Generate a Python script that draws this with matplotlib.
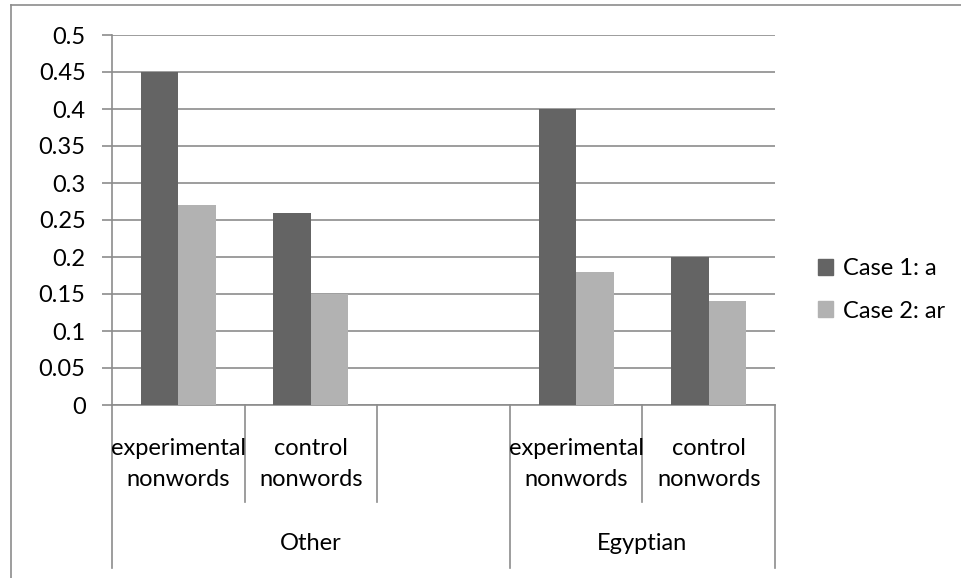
import matplotlib.pyplot as plt
from matplotlib import transforms
from matplotlib.lines import Line2D
from matplotlib.patches import Patch

plt.rcParams['font.family'] = ['Lato', 'DejaVu Sans']

categories = ["experimental\nnonwords", "control\nnonwords", "",
              "experimental\nnonwords", "control\nnonwords"]
groups = ["Other", "Egyptian"]
group_spans = [(0, 3), (3, 5)]
case1 = [0.45, 0.26, None, 0.40, 0.20]
case2 = [0.27, 0.15, None, 0.18, 0.14]
series_names = ["Case 1: a", "Case 2: ar"]
yticks = [0, 0.05, 0.1, 0.15, 0.2, 0.25, 0.3, 0.35, 0.4, 0.45, 0.5]

W, H = 961, 578
dark = "#646464"
light = "#b2b2b2"
gray = "#8c8c8c"
fs = 17

fig = plt.figure(figsize=(W / 100, H / 100), dpi=100)
fig.patch.set_facecolor("white")

# plot area in pixels: x 112..775, y 35..405
ax = fig.add_axes([112 / W, (H - 405) / H, (775 - 112) / W, (405 - 35) / H])

bw = 0.283
for i in range(len(categories)):
    if case1[i] is not None:
        ax.bar(i + 0.5 - bw / 2, case1[i], width=bw, color=dark, zorder=3)
    if case2[i] is not None:
        ax.bar(i + 0.5 + bw / 2, case2[i], width=bw, color=light, zorder=3)

ax.set_xlim(0, len(categories))
ax.set_ylim(0, 0.5)
ax.set_yticks(yticks)
ax.set_yticklabels(["0" if v == 0 else ("%g" % v) for v in yticks], fontsize=fs)
ax.set_xticks([])
ax.yaxis.grid(True, color=gray, linewidth=1.2, zorder=0)
ax.tick_params(axis="y", length=7, width=1.2, color=gray, pad=12)
for s in ["top", "right"]:
    ax.spines[s].set_visible(False)
for s in ["left", "bottom"]:
    ax.spines[s].set_color(gray)
    ax.spines[s].set_linewidth(1.2)

# category and group divider lines under the axis
tr = transforms.blended_transform_factory(ax.transData, fig.transFigure)
group_edges = {a for a, b in group_spans} | {b for a, b in group_spans}
for x in range(len(categories) + 1):
    y_end = 568 if x in group_edges else 502
    ax.add_line(Line2D([x, x], [(H - 405) / H, (H - y_end) / H], transform=tr,
                       color=gray, linewidth=1.2, clip_on=False))

for i, label in enumerate(categories):
    if label:
        fig.text(i + 0.5, (H - 464) / H, label, transform=tr, ha="center",
                 va="center", fontsize=fs, linespacing=1.55)

for (a, b), g in zip(group_spans, groups):
    fig.text((a + b) / 2, (H - 543) / H, g, transform=tr, ha="center",
             va="center", fontsize=fs)

# outer chart frame
fig.add_artist(Line2D([11 / W, 1], [(H - 5) / H, (H - 5) / H], color=gray, linewidth=1.2))
fig.add_artist(Line2D([11 / W, 11 / W], [(H - 5) / H, 0], color=gray, linewidth=1.2))

handles = [Patch(color=dark), Patch(color=light)]
fig.legend(handles, series_names, loc="center left",
           bbox_to_anchor=(818 / W, (H - 290) / H), frameon=False, fontsize=fs,
           handlelength=0.65, handleheight=0.65, handletextpad=0.4, labelspacing=0.9,
           borderpad=0, borderaxespad=0)

fig.savefig("out.png", dpi=100)
